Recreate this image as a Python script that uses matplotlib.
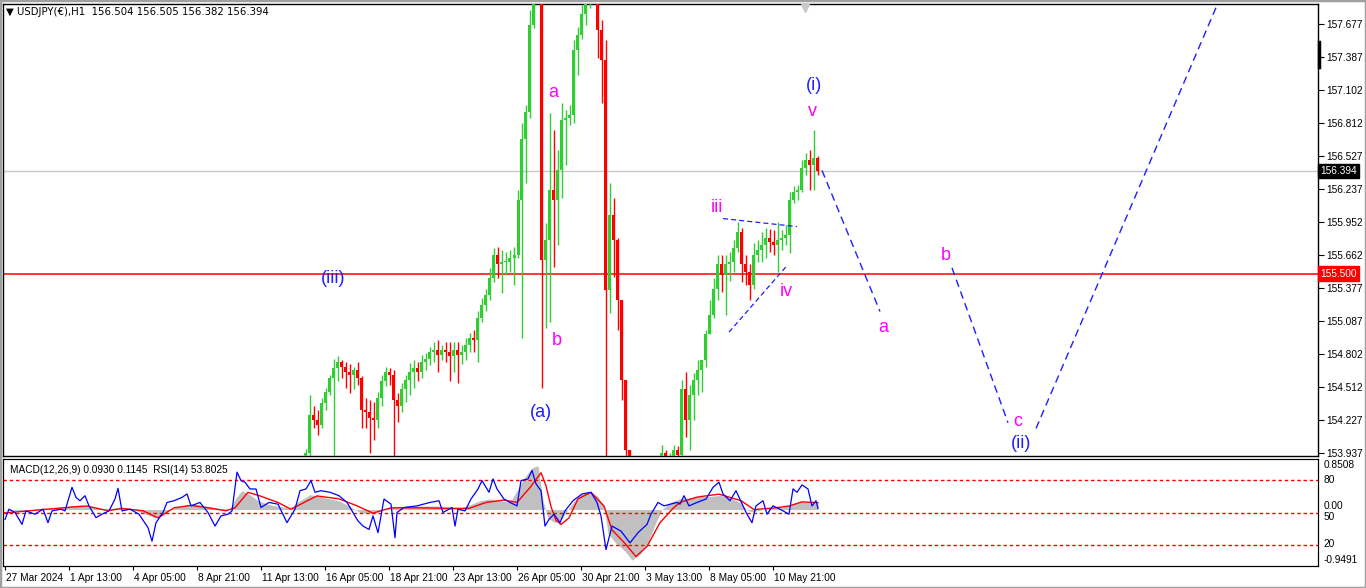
import numpy as np
import matplotlib.pyplot as plt
from matplotlib.transforms import blended_transform_factory
from matplotlib.patches import Rectangle

W, H = 1366, 588
plt.rcParams['font.family'] = ['Liberation Sans', 'DejaVu Sans']

# USDJPY H1, read as 4-hour groups; bar 0 = 27 Mar 2024 21:00 (one bar per hour)
first_bar = 299
bars_per_candle = 4
first_open = 153.89
highs = [153.97, 154.44, 154.35, 154.31, 154.42, 154.50, 154.62, 154.76, 154.78, 154.75,
         154.73, 154.71, 154.69, 154.73, 154.61, 154.42, 154.40, 154.38, 154.47, 154.62,
         154.69, 154.68, 154.66, 154.46, 154.55, 154.62, 154.72, 154.75, 154.73, 154.79,
         154.81, 154.86, 154.90, 154.92, 154.88, 154.90, 154.90, 154.90, 154.90, 154.88,
         154.94, 154.98, 155.01, 155.17, 155.29, 155.37, 155.55, 155.72, 155.73, 155.71,
         155.69, 155.71, 155.73, 156.23, 156.81, 156.97, 157.80, 158.28, 158.41, 160.07,
         155.94, 156.90, 156.75, 156.58, 156.99, 156.93, 156.97, 157.54, 157.65, 157.84,
         157.97, 158.02, 158.06, 158.02, 157.71, 157.54, 156.29, 156.16, 155.81, 155.27,
         154.57, 153.96, 153.79, 153.70, 153.61, 153.57, 153.26, 153.00, 153.79, 154.01,
         153.96, 153.94, 154.01, 154.00, 154.57, 154.64, 154.53, 154.63, 154.75, 154.75,
         155.01, 155.27, 155.46, 155.66, 155.66, 155.66, 155.69, 155.79, 155.95, 155.90,
         155.66, 155.58, 155.77, 155.79, 155.86, 155.90, 155.89, 155.88, 155.95, 155.88,
         155.92, 156.21, 156.26, 156.27, 156.49, 156.55, 156.58, 156.75, 156.53]
lows = [153.86, 153.89, 154.15, 154.09, 154.15, 154.31, 154.44, 153.91, 154.56, 154.59,
        154.50, 154.46, 154.49, 154.53, 154.15, 154.15, 153.94, 154.05, 154.15, 154.35,
        154.52, 154.53, 153.91, 154.21, 154.29, 154.38, 154.44, 154.50, 154.56, 154.59,
        154.66, 154.70, 154.73, 154.64, 154.75, 154.73, 154.56, 154.64, 154.55, 154.71,
        154.75, 154.82, 154.82, 154.73, 155.08, 155.17, 155.27, 155.43, 155.46, 155.33,
        155.49, 155.51, 155.40, 155.64, 154.94, 156.29, 156.86, 157.64, 158.23, 154.50,
        155.03, 155.08, 155.56, 155.75, 156.16, 156.45, 156.80, 156.81, 157.23, 157.55,
        157.67, 157.82, 157.90, 157.38, 156.99, 153.00, 155.16, 155.47, 155.01, 154.40,
        153.87, 153.61, 153.53, 153.44, 153.35, 153.00, 151.87, 152.13, 152.74, 153.66,
        153.79, 153.77, 153.86, 153.87, 153.89, 154.08, 153.96, 154.22, 154.44, 154.47,
        154.69, 154.97, 155.11, 155.27, 155.34, 155.14, 155.44, 155.51, 155.69, 155.43,
        155.40, 155.27, 155.37, 155.60, 155.60, 155.64, 155.69, 155.66, 155.51, 155.71,
        155.75, 155.68, 156.12, 156.14, 156.21, 156.36, 156.23, 156.23, 156.36]
closes = [153.94, 154.27, 154.22, 154.18, 154.37, 154.47, 154.59, 154.68, 154.73, 154.69,
          154.64, 154.62, 154.66, 154.59, 154.31, 154.29, 154.24, 154.22, 154.42, 154.56,
          154.64, 154.62, 154.40, 154.35, 154.49, 154.57, 154.64, 154.68, 154.64, 154.73,
          154.76, 154.82, 154.83, 154.79, 154.83, 154.82, 154.78, 154.83, 154.79, 154.82,
          154.88, 154.94, 154.92, 155.11, 155.23, 155.31, 155.46, 155.66, 155.58, 155.60,
          155.60, 155.64, 155.66, 156.14, 156.67, 156.91, 157.67, 158.19, 158.32, 155.62,
          155.79, 156.23, 156.14, 156.40, 156.84, 156.86, 156.88, 157.45, 157.58, 157.76,
          157.89, 157.93, 157.97, 157.62, 157.36, 155.36, 156.01, 155.79, 155.27, 154.57,
          153.96, 153.70, 153.61, 153.53, 153.44, 153.18, 152.30, 152.83, 153.70, 153.94,
          153.87, 153.89, 153.96, 153.92, 154.49, 154.22, 154.44, 154.57, 154.66, 154.75,
          154.97, 155.14, 155.37, 155.58, 155.49, 155.58, 155.60, 155.72, 155.86, 155.58,
          155.51, 155.40, 155.66, 155.71, 155.75, 155.81, 155.78, 155.75, 155.79, 155.81,
          155.84, 156.14, 156.21, 156.23, 156.42, 156.49, 156.45, 156.51, 156.394]

price_ticks = [157.677, 157.387, 157.102, 156.812, 156.527, 156.237, 155.952,
               155.662, 155.377, 155.087, 154.802, 154.512, 154.227, 153.937]
time_labels = ["27 Mar 2024", "1 Apr 13:00", "4 Apr 05:00", "8 Apr 21:00", "11 Apr 13:00",
               "16 Apr 05:00", "18 Apr 21:00", "23 Apr 13:00", "26 Apr 05:00", "30 Apr 21:00",
               "3 May 13:00", "8 May 05:00", "10 May 21:00"]
time_label_bars = [0, 64, 128, 192, 256, 320, 384, 448, 512, 576, 640, 704, 768]

last_price = 156.394
level_price = 155.500

# Elliott wave projection and triangle (bar, price)
proj_a = ([817, 875], [156.40, 155.17])
proj_c = ([947, 1003], [155.55, 154.20])
proj_up = ([1031, 1213], [154.15, 157.86])
tri_upper = ([718, 792], [155.98, 155.91])
tri_lower = ([724, 782], [154.99, 155.57])

# wave labels: text, bar, price, colour
wave_labels = [("(iii)", 328, 155.46, 'blue'), ("a", 548, 157.08, 'mag'), ("b", 552, 154.92, 'mag'),
               ("(a)", 536, 154.29, 'blue'), ("(i)", 809, 157.14, 'blue'), ("v", 807, 156.91, 'mag'),
               ("iii", 712, 156.08, 'mag'), ("iv", 781, 155.34, 'mag'), ("a", 878, 155.03, 'mag'),
               ("b", 941, 155.66, 'mag'), ("c", 1013, 154.21, 'mag'), ("(ii)", 1016, 154.02, 'blue')]

# indicator window
rsi_bars = [0, 4, 10, 17, 21, 30, 38, 43, 47, 56, 60, 67, 71, 75, 80, 84, 91, 97, 104, 110,
            113, 117, 125, 134, 143, 147, 151, 158, 162, 169, 177, 182, 186, 195, 203, 210, 216, 223, 227, 232,
            236, 240, 245, 251, 256, 264, 273, 282, 290, 295, 301, 306, 310, 316, 325, 334, 342, 347, 353, 358,
            364, 368, 373, 379, 386, 390, 392, 399, 412, 425, 434, 438, 447, 450, 453, 460, 466, 473, 477, 484,
            488, 492, 499, 505, 512, 516, 523, 527, 531, 536, 540, 544, 549, 555, 560, 568, 577, 586, 592, 596,
            601, 607, 616, 625, 633, 642, 646, 653, 659, 672, 675, 679, 684, 692, 701, 708, 714, 718, 725, 731,
            738, 742, 747, 751, 758, 762, 768, 775, 784, 788, 792, 797, 803, 807, 811, 813]
rsi_vals = [43.6, 53.1, 50.0, 38.9, 51.5, 48.4, 53.1, 40.5, 51.5, 53.1, 51.5, 73.5, 64.1, 61.0, 65.7, 56.2, 45.2, 48.4, 51.5, 62.6,
            72.6, 51.5, 53.1, 48.4, 35.8, 23.2, 40.5, 50.0, 59.4, 61.0, 64.1, 67.3, 56.2, 59.4, 50.0, 37.3, 46.8, 48.4, 51.5, 87.7,
            79.8, 78.3, 72.0, 72.0, 54.7, 59.4, 57.8, 40.5, 53.1, 70.4, 72.0, 79.8, 68.9, 70.4, 68.9, 65.7, 59.4, 51.5, 42.1, 37.3,
            34.2, 46.8, 31.1, 62.6, 57.8, 26.4, 50.0, 54.7, 56.2, 59.4, 61.0, 50.0, 54.7, 37.3, 53.1, 51.5, 62.6, 72.0, 79.8, 68.9,
            81.4, 72.0, 62.6, 59.4, 56.2, 79.8, 81.4, 89.3, 76.7, 70.4, 37.3, 43.6, 48.4, 40.5, 51.5, 61.0, 67.3, 68.9, 59.4, 46.8,
            15.3, 37.3, 32.6, 21.6, 31.1, 38.9, 48.4, 59.4, 56.2, 59.4, 57.8, 65.7, 56.2, 59.4, 62.6, 73.5, 78.3, 67.3, 61.0, 70.4,
            56.2, 48.4, 40.5, 56.2, 61.0, 48.4, 56.2, 53.1, 48.4, 72.0, 68.9, 75.8, 72.0, 56.2, 61.0, 53.8]
macd_bars = [-2, 15, 35, 55, 65, 75, 85, 95, 105, 115, 125, 135, 143, 150, 157, 165, 175, 185, 195, 205,
             215, 225, 231, 237, 245, 253, 265, 275, 285, 295, 305, 315, 325, 335, 345, 355, 365, 375, 385, 395,
             415, 435, 445, 455, 465, 475, 485, 495, 505, 513, 520, 527, 533, 538, 543, 550, 557, 565, 575, 585,
             593, 599, 603, 610, 620, 627, 635, 643, 650, 657, 665, 675, 685, 695, 705, 715, 725, 735, 741, 747,
             755, 765, 775, 785, 795, 805, 813]
macd_vals = [0.0, -0.03, 0.02, 0.03, 0.06, 0.08, 0.06, 0.02, 0.02, 0.04, 0.02, -0.04, -0.09, -0.14, -0.10, 0.0, 0.06, 0.09, 0.08, 0.05,
             0.02, 0.01, 0.20, 0.32, 0.25, 0.15, 0.08, 0.05, 0.03, 0.15, 0.25, 0.22, 0.18, 0.14, 0.05, -0.05, -0.07, -0.03, 0.04, 0.05,
             0.06, 0.06, 0.03, 0.02, 0.08, 0.15, 0.18, 0.15, 0.12, 0.35, 0.55, 0.70, 0.74, 0.15, -0.15, -0.22, -0.15, 0.05, 0.25, 0.30,
             0.22, 0.05, -0.40, -0.55, -0.70, -0.85, -0.75, -0.55, -0.25, 0.0, 0.12, 0.18, 0.20, 0.22, 0.22, 0.24, 0.20, 0.12, 0.0, -0.04,
             -0.01, 0.02, 0.03, 0.08, 0.13, 0.12, 0.093]
signal_bars = [-2, 38, 65, 82, 103, 117, 138, 153, 169, 186, 203, 221, 230, 243, 255, 273, 286, 299, 312, 334,
               351, 368, 386, 412, 447, 464, 481, 499, 512, 525, 536, 541, 546, 551, 556, 564, 573, 586, 599, 607,
               620, 631, 642, 655, 668, 675, 692, 714, 736, 749, 771, 784, 797, 813]
signal_vals = [-0.06, 0.0, 0.04, 0.06, -0.02, 0.02, -0.02, -0.14, 0.03, 0.07, 0.03, -0.02, 0.03, 0.29, 0.23, 0.12, 0.005, 0.12, 0.23, 0.18,
               0.07, -0.06, 0.03, 0.03, 0.02, 0.02, 0.12, 0.16, 0.12, 0.37, 0.62, 0.40, 0.05, -0.18, -0.25, -0.14, 0.18, 0.29, 0.06, -0.34,
               -0.57, -0.79, -0.62, -0.22, 0.02, 0.12, 0.21, 0.26, 0.15, 0.0, 0.03, 0.06, 0.13, 0.1145]
rsi_levels = [80, 50, 20]

fig = plt.figure(figsize=(W / 100, H / 100), dpi=100)
fig.patches.append(Rectangle((0, 0), 1, 1, transform=fig.transFigure, fill=False,
                             ec='#a0a0a0', lw=2.5))
main = fig.add_axes([3 / W, 1 - 456 / H, 1315 / W, 452 / H])
panel = fig.add_axes([3 / W, 1 - 566 / H, 1315 / W, 107 / H])

# candles
o = np.array([first_open] + closes[:-1])
c = np.array(closes)
hi = np.maximum(np.array(highs), np.maximum(o, c))
lo = np.minimum(np.array(lows), np.minimum(o, c))
x = first_bar + bars_per_candle / 2 + bars_per_candle * np.arange(len(c))
cols = np.where(c >= o, '#32CD32', '#FF0000')
main.vlines(x, lo, hi, colors=cols, lw=1.0, zorder=3)
main.bar(x, np.maximum(np.abs(c - o), 0.012), bottom=np.minimum(o, c), width=3.0,
         color=cols, linewidth=0, zorder=3)

main.axhline(last_price, color='#C8C8C8', lw=1, zorder=1)
main.axhline(level_price, color='#FF0000', lw=1.1, zorder=2)

blue = '#1E1EFF'
for xs, ys in (proj_a, proj_c, proj_up):
    main.plot(xs, ys, color=blue, lw=1, ls=(0, (5.5, 3.5)), zorder=4)
for xs, ys in (tri_upper, tri_lower):
    main.plot(xs, ys, color=blue, lw=0.9, ls=(0, (4, 2.5)), zorder=4)

for txt, bx, py, col in wave_labels:
    main.text(bx, py, txt, color=blue if col == 'blue' else '#FF00FF', fontsize=13,
              ha='center', va='center', zorder=5)

main.set_xlim(-2, 1313)
main.set_ylim(153.910, 157.851)
main.set_xticks([])
main.yaxis.tick_right()
main.set_yticks(price_ticks)
main.set_yticklabels([f"{t:.3f}" for t in price_ticks])
main.tick_params(axis='y', direction='out', length=4, width=0.8, pad=2, labelsize=7.3)
for s in main.spines.values():
    s.set_linewidth(1.0)

tr = blended_transform_factory(main.transAxes, main.transData)
for val, fc in ((last_price, 'black'), (level_price, '#FF0000')):
    main.text(1.002, val, f"{val:.3f}", transform=tr, color='white', fontsize=7.3, va='center', ha='left',
              bbox=dict(boxstyle='square,pad=0.22', fc=fc, ec=fc), zorder=6, clip_on=False)
main.plot([1.0008, 1.0008], [157.52, 157.30], transform=tr, color='black', lw=2.5, clip_on=False)
main.plot([800], [157.82], marker='v', ms=6, color='#C8C8C8', clip_on=False, zorder=6)

fig.text(6 / W, 1 - 12 / H, "\u25bc USDJPY(\u20ac),H1  156.504 156.505 156.382 156.394",
         fontsize=7.3, va='center', ha='left', family=['DejaVu Sans'])

# indicator panel: MACD histogram + signal, RSI on its own scale
panel.fill_between(macd_bars, 0, macd_vals, color='#C0C0C0', lw=0, zorder=1)
panel.plot(signal_bars, signal_vals, color='#FF0000', lw=1.0, zorder=2)
panel.set_ylim(-0.9491, 0.8508)
panel.set_xlim(-2, 1313)
panel.set_yticks([])
panel.set_xticks(time_label_bars)
panel.set_xticklabels([])
panel.tick_params(axis='x', direction='out', length=3, width=0.8)

rsi_ax = panel.twinx()
rsi_ax.set_ylim(0, 100)
for lv in rsi_levels:
    rsi_ax.axhline(lv, color='#FF0000', lw=1, ls=(0, (2.5, 2)), zorder=1)
rsi_ax.plot(rsi_bars, rsi_vals, color='#0000FF', lw=0.9, zorder=3)
rsi_ax.set_yticks([])
rsi_ax.set_xlim(-2, 1313)

ptr = blended_transform_factory(panel.transAxes, rsi_ax.transData)
for txt, yv, va in (("0.8508", 99, 'top'), ("80", 80, 'center'), ("0.00", 56, 'center'),
                    ("50", 45.5, 'center'), ("20", 21, 'center'), ("-0.9491", 1, 'bottom')):
    rsi_ax.text(1.004, yv, txt, transform=ptr, fontsize=7.3, va=va, ha='left', clip_on=False)
rsi_ax.text(0.005, 90, "MACD(12,26,9) 0.0930 0.1145  RSI(14) 53.8025", transform=ptr,
            fontsize=7.3, va='center', ha='left')

for lab, b in zip(time_labels, time_label_bars):
    panel.text(b + 1, -1.07, lab, fontsize=7.3, va='top', ha='left', clip_on=False)

fig.savefig("out.png", dpi=100)
